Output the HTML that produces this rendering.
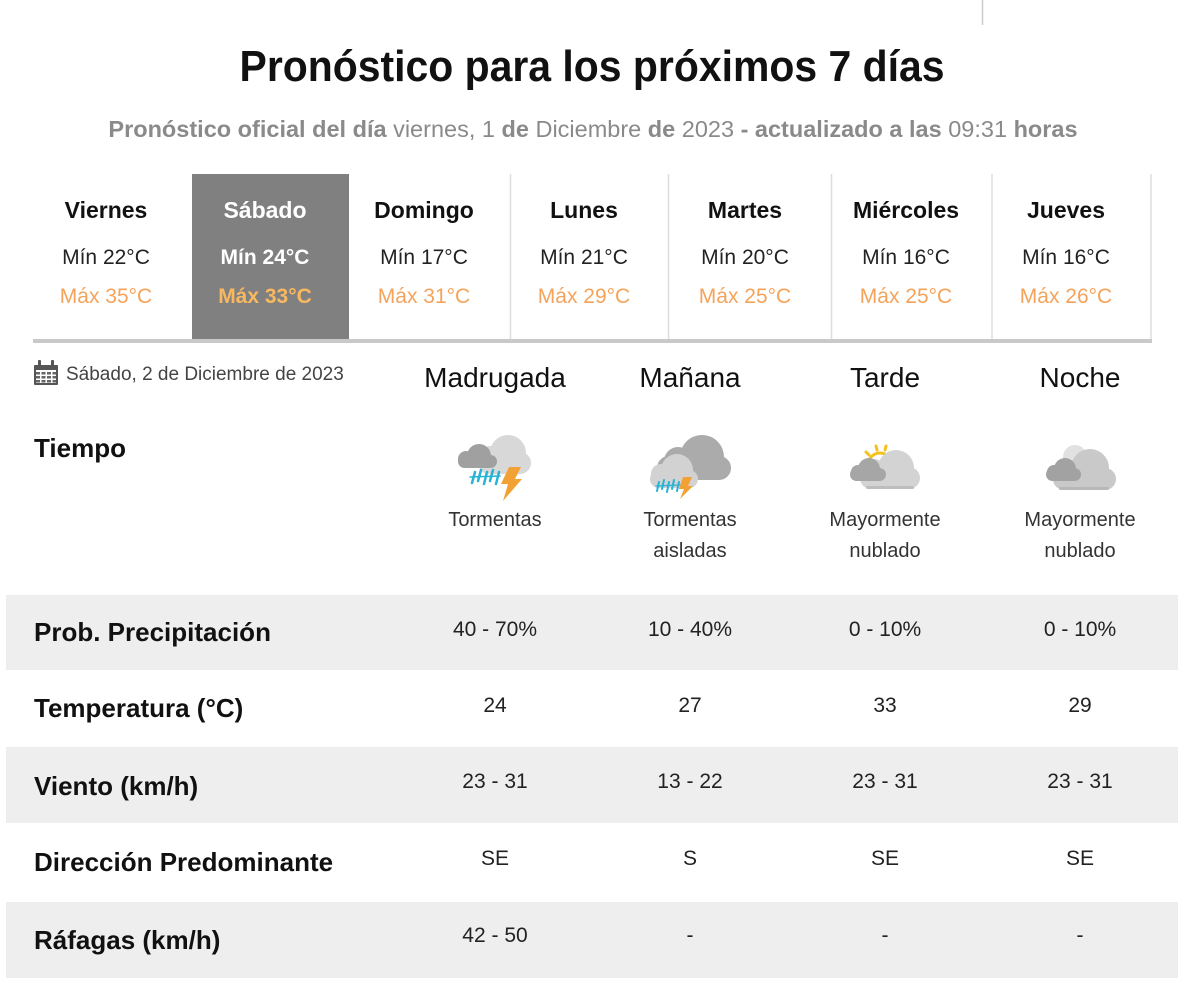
<!DOCTYPE html>
<html><head><meta charset="utf-8">
<style>
html,body{margin:0;padding:0;background:#fff;}
body{width:1200px;height:992px;position:relative;overflow:hidden;font-family:"Liberation Sans",Arial,sans-serif;}
.a{position:absolute;white-space:nowrap;}
.c{text-align:center;}
.day{font-size:23px;font-weight:bold;color:#111;line-height:23px;}
.mn{font-size:21px;color:#222;line-height:21px;}
.mx{font-size:21px;color:#f5a35a;line-height:21px;}
.hd{font-size:28px;color:#111;line-height:28px;}
.lb{font-size:26px;font-weight:bold;color:#111;line-height:26px;left:34px;}
.v{font-size:21px;color:#222;line-height:21px;}
.cond{font-size:20px;color:#333;line-height:31px;}
.row{position:absolute;left:6px;width:1172px;background:#eeeeee;}
</style></head><body>

<svg class="a" style="left:0;top:0" width="1200" height="992" viewBox="0 0 1200 992">
  <line x1="982.5" y1="0" x2="982.5" y2="25" stroke="#cccccc" stroke-width="1.5"/>
  <rect x="192" y="174" width="157" height="165" fill="#808080"/>
  <g stroke="#dddddd" stroke-width="1.5">
    <line x1="510.5" y1="174" x2="510.5" y2="339"/>
    <line x1="668.5" y1="174" x2="668.5" y2="339"/>
    <line x1="831.5" y1="174" x2="831.5" y2="339"/>
    <line x1="992" y1="174" x2="992" y2="339"/>
    <line x1="1151" y1="174" x2="1151" y2="339"/>
  </g>
  <rect x="33" y="339" width="1119" height="4" fill="#c9c9c9"/>

  <g fill="#555">
    <rect x="34" y="365" width="24" height="20" rx="1"/>
    <rect x="38" y="360" width="3" height="7" rx="1"/>
    <rect x="51" y="360" width="3" height="7" rx="1"/>
  </g>
  <g fill="#fff">
    <rect x="36" y="370" width="20" height="13"/>
  </g>
  <g fill="#666">
    <rect x="36" y="372" width="4" height="2.5"/><rect x="41.5" y="372" width="4" height="2.5"/><rect x="47" y="372" width="4" height="2.5"/><rect x="52.5" y="372" width="3.5" height="2.5"/>
    <rect x="36" y="376" width="4" height="2.5"/><rect x="41.5" y="376" width="4" height="2.5"/><rect x="47" y="376" width="4" height="2.5"/><rect x="52.5" y="376" width="3.5" height="2.5"/>
    <rect x="36" y="380" width="4" height="2.5"/><rect x="41.5" y="380" width="4" height="2.5"/><rect x="47" y="380" width="4" height="2.5"/><rect x="52.5" y="380" width="3.5" height="2.5"/>
  </g>

  <g fill="#d8d8d8">
    <rect x="478" y="452" width="53" height="22" rx="11"/>
    <circle cx="508" cy="453" r="18"/>
    <circle cx="490" cy="457" r="11"/>
  </g>
  <g fill="#a0a0a0">
    <rect x="458" y="455" width="39" height="13" rx="6.5"/>
    <circle cx="479" cy="456" r="12"/>
    <circle cx="466" cy="459" r="8"/>
  </g>
  <g stroke="#27b3d6" stroke-width="2.5" stroke-linecap="round">
    <line x1="472" y1="483" x2="475" y2="472"/>
    <line x1="478" y1="481" x2="481" y2="470"/>
    <line x1="484" y1="484" x2="487" y2="472"/>
    <line x1="490" y1="481" x2="493" y2="470"/>
    <line x1="496" y1="484" x2="499" y2="472"/>
    <line x1="470" y1="477" x2="500" y2="476" stroke-width="1.5"/>
  </g>
  <polygon points="509,467 521,467 515,479 522,479 503,501 508,484 501,484" fill="#f2a234"/>

  <g fill="#ababab">
    <rect x="657" y="456" width="74" height="24" rx="12"/>
    <circle cx="702" cy="457" r="22"/>
    <circle cx="678" cy="461" r="14"/>
  </g>
  <g fill="#d2d2d2">
    <rect x="650" y="470" width="48" height="18" rx="9"/>
    <circle cx="677" cy="470" r="16"/>
    <circle cx="661" cy="474" r="10"/>
  </g>
  <g stroke="#27b3d6" stroke-width="2" stroke-linecap="round">
    <line x1="657" y1="491" x2="659" y2="482"/>
    <line x1="662" y1="489" x2="664" y2="480"/>
    <line x1="667" y1="492" x2="669" y2="482"/>
    <line x1="672" y1="489" x2="674" y2="480"/>
    <line x1="677" y1="491" x2="679" y2="482"/>
    <line x1="656" y1="486" x2="680" y2="485" stroke-width="1.3"/>
  </g>
  <polygon points="683,477 692,477 688,486 693,486 680,499 684,489 679,489" fill="#f2a234"/>

  <g stroke="#f5c21b" stroke-width="3" stroke-linecap="round" fill="none">
    <path d="M868,465 A12,12 0 0 1 892,465"/>
    <line x1="866" y1="452" x2="869" y2="455"/>
    <line x1="876" y1="446" x2="877" y2="450"/>
    <line x1="886" y1="446" x2="885" y2="450"/>
    <line x1="895" y1="452" x2="892" y2="455"/>
  </g>
  <g fill="#d3d3d3">
    <rect x="860" y="467" width="60" height="22" rx="11"/>
    <circle cx="896" cy="468" r="18"/>
    <circle cx="874" cy="471" r="12"/>
  </g>
  <rect x="866" y="486" width="48" height="3" rx="1.5" fill="#bdbdbd"/>
  <g fill="#a6a6a6">
    <rect x="850" y="468" width="36" height="13" rx="6.5"/>
    <circle cx="869" cy="469" r="11"/>
    <circle cx="858" cy="472" r="7"/>
  </g>

  <circle cx="1075" cy="457" r="12" fill="#e1e1e1"/>
  <g fill="#c9c9c9">
    <rect x="1053" y="468" width="63" height="22" rx="11"/>
    <circle cx="1090" cy="468" r="19"/>
    <circle cx="1068" cy="472" r="12"/>
  </g>
  <rect x="1059" y="487" width="50" height="3" rx="1.5" fill="#b8b8b8"/>
  <g fill="#a2a2a2">
    <rect x="1046" y="468" width="35" height="13" rx="6.5"/>
    <circle cx="1065" cy="469" r="11"/>
    <circle cx="1054" cy="472" r="7"/>
  </g>
</svg>

<div class="a c" style="left:0;width:1184px;top:45px;font-size:44px;line-height:44px;font-weight:bold;color:#111;">
  <span style="display:inline-block;transform:scaleX(0.93);">Pronóstico para los próximos 7 días</span>
</div>
<div class="a c" style="left:0;width:1186px;top:118px;font-size:23.5px;line-height:23px;color:#8a8a8a;">
  <b>Pronóstico oficial del día</b> viernes, 1 <b>de</b> Diciembre <b>de</b> 2023 <b>- actualizado a las</b> 09:31 <b>horas</b>
</div>

<div class="a c day" style="left:6px;width:200px;top:199px;">Viernes</div>
<div class="a c mn" style="left:6px;width:200px;top:247px;">Mín 22°C</div>
<div class="a c mx" style="left:6px;width:200px;top:286px;">Máx 35°C</div>

<div class="a c day" style="left:165px;width:200px;top:199px;color:#fff;">Sábado</div>
<div class="a c mn" style="left:165px;width:200px;top:247px;color:#fff;font-weight:bold;">Mín 24°C</div>
<div class="a c mx" style="left:165px;width:200px;top:286px;color:#f8b860;font-weight:bold;">Máx 33°C</div>

<div class="a c day" style="left:324px;width:200px;top:199px;">Domingo</div>
<div class="a c mn" style="left:324px;width:200px;top:247px;">Mín 17°C</div>
<div class="a c mx" style="left:324px;width:200px;top:286px;">Máx 31°C</div>

<div class="a c day" style="left:484px;width:200px;top:199px;">Lunes</div>
<div class="a c mn" style="left:484px;width:200px;top:247px;">Mín 21°C</div>
<div class="a c mx" style="left:484px;width:200px;top:286px;">Máx 29°C</div>

<div class="a c day" style="left:645px;width:200px;top:199px;">Martes</div>
<div class="a c mn" style="left:645px;width:200px;top:247px;">Mín 20°C</div>
<div class="a c mx" style="left:645px;width:200px;top:286px;">Máx 25°C</div>

<div class="a c day" style="left:806px;width:200px;top:199px;">Miércoles</div>
<div class="a c mn" style="left:806px;width:200px;top:247px;">Mín 16°C</div>
<div class="a c mx" style="left:806px;width:200px;top:286px;">Máx 25°C</div>

<div class="a c day" style="left:966px;width:200px;top:199px;">Jueves</div>
<div class="a c mn" style="left:966px;width:200px;top:247px;">Mín 16°C</div>
<div class="a c mx" style="left:966px;width:200px;top:286px;">Máx 26°C</div>

<div class="a" style="left:66px;top:366px;font-size:19px;line-height:18px;color:#444;">Sábado, 2 de Diciembre de 2023</div>
<div class="a c hd" style="left:395px;width:200px;top:364px;">Madrugada</div>
<div class="a c hd" style="left:590px;width:200px;top:364px;">Mañana</div>
<div class="a c hd" style="left:785px;width:200px;top:364px;">Tarde</div>
<div class="a c hd" style="left:980px;width:200px;top:364px;">Noche</div>

<div class="a lb" style="top:435px;">Tiempo</div>

<div class="a c cond" style="left:395px;width:200px;top:505px;">Tormentas</div>
<div class="a c cond" style="left:590px;width:200px;top:505px;">Tormentas<br>aisladas</div>
<div class="a c cond" style="left:785px;width:200px;top:505px;">Mayormente<br>nublado</div>
<div class="a c cond" style="left:980px;width:200px;top:505px;">Mayormente<br>nublado</div>

<div class="row" style="top:595px;height:75px;"></div>
<div class="row" style="top:747px;height:76px;"></div>
<div class="row" style="top:902px;height:76px;"></div>

<div class="a lb" style="top:619px;">Prob. Precipitación</div>
<div class="a c v" style="left:395px;width:200px;top:619px;">40 - 70%</div>
<div class="a c v" style="left:590px;width:200px;top:619px;">10 - 40%</div>
<div class="a c v" style="left:785px;width:200px;top:619px;">0 - 10%</div>
<div class="a c v" style="left:980px;width:200px;top:619px;">0 - 10%</div>

<div class="a lb" style="top:695px;">Temperatura (°C)</div>
<div class="a c v" style="left:395px;width:200px;top:695px;">24</div>
<div class="a c v" style="left:590px;width:200px;top:695px;">27</div>
<div class="a c v" style="left:785px;width:200px;top:695px;">33</div>
<div class="a c v" style="left:980px;width:200px;top:695px;">29</div>

<div class="a lb" style="top:773px;">Viento (km/h)</div>
<div class="a c v" style="left:395px;width:200px;top:771px;">23 - 31</div>
<div class="a c v" style="left:590px;width:200px;top:771px;">13 - 22</div>
<div class="a c v" style="left:785px;width:200px;top:771px;">23 - 31</div>
<div class="a c v" style="left:980px;width:200px;top:771px;">23 - 31</div>

<div class="a lb" style="top:849px;">Dirección Predominante</div>
<div class="a c v" style="left:395px;width:200px;top:848px;">SE</div>
<div class="a c v" style="left:590px;width:200px;top:848px;">S</div>
<div class="a c v" style="left:785px;width:200px;top:848px;">SE</div>
<div class="a c v" style="left:980px;width:200px;top:848px;">SE</div>

<div class="a lb" style="top:927px;">Ráfagas (km/h)</div>
<div class="a c v" style="left:395px;width:200px;top:925px;">42 - 50</div>
<div class="a c v" style="left:590px;width:200px;top:925px;">-</div>
<div class="a c v" style="left:785px;width:200px;top:925px;">-</div>
<div class="a c v" style="left:980px;width:200px;top:925px;">-</div>

</body></html>
